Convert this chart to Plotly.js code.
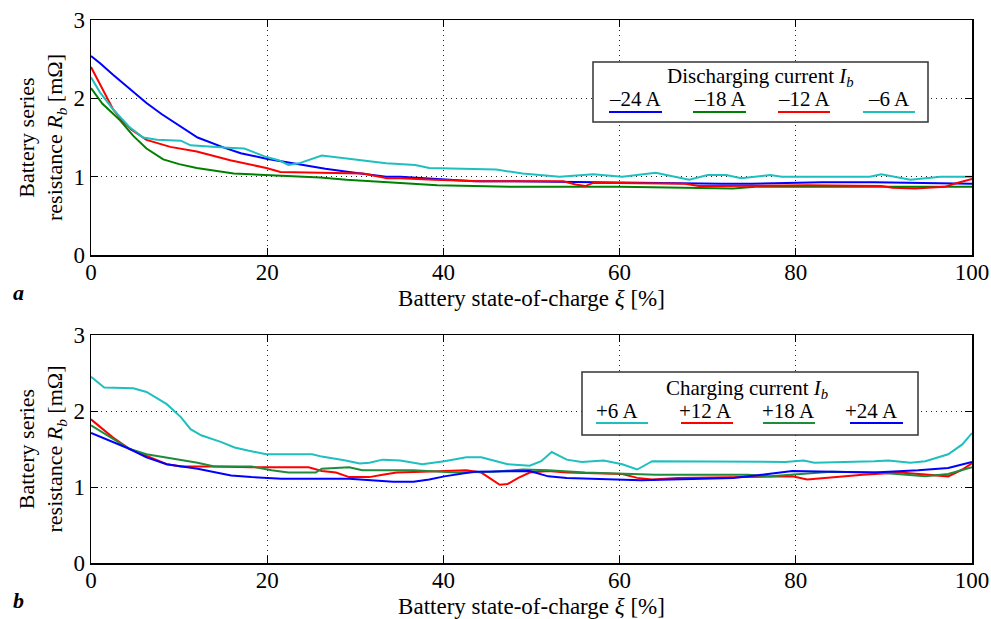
<!DOCTYPE html>
<html><head><meta charset="utf-8">
<script src="https://cdn.plot.ly/plotly-3.0.1.min.js"></script>
<style>html,body{margin:0;padding:0;background:#fff}</style>
</head><body>
<div id="chart" style="width:991px;height:619px"></div>
<script>
// ---- Data: discharging (panel a) ----
const dis24_x = [0,1,2.5,4.4,6.3,8,10,12.1,15.1,17,19.9,23,26.6,29.3,33.5,35.1,38,43.5,48,54,60,71.6,75,83,88.9,95,100];
const dis24_y = [2.54,2.45,2.30,2.12,1.94,1.80,1.65,1.50,1.37,1.30,1.23,1.17,1.10,1.06,1.00,1.00,0.98,0.94,0.94,0.93,0.92,0.91,0.91,0.93,0.93,0.92,0.91];
const dis18_x = [0,1.3,3.3,4.8,6.3,8.2,10,12,16.2,19.9,26,29,34,35.1,39.3,44,48.5,60,72.9,75.4,86.8,100];
const dis18_y = [2.13,1.93,1.72,1.52,1.36,1.22,1.16,1.11,1.04,1.02,0.99,0.96,0.92,0.92,0.89,0.88,0.87,0.87,0.85,0.87,0.87,0.87];
const dis12_x = [0,1,2.5,3.5,4.6,6.3,9,12,15.8,19.9,21.5,26,30.9,33.6,35.1,38.9,44.3,53.6,55,56.1,57,59.9,67.4,69,71.2,81.3,89.7,91,93.5,96.9,98,100];
const dis12_y = [2.40,2.18,1.86,1.72,1.60,1.47,1.38,1.32,1.21,1.11,1.06,1.05,1.04,0.98,0.98,0.96,0.94,0.94,0.90,0.88,0.92,0.92,0.91,0.88,0.88,0.89,0.88,0.86,0.85,0.87,0.91,0.97];
const dis6_x = [0,1,2.5,4.4,5.9,7.5,10.2,11.3,15.5,17.4,19.9,21.3,22.4,23.6,26.2,27.8,33.5,36.8,38.4,46,47.7,49,53.2,57,60.3,62.4,64.1,65.3,67.9,70,72.1,73.8,77.1,78.4,88.4,89.7,91,93,95.6,96.4,100];
const dis6_y = [2.27,2.08,1.86,1.63,1.50,1.47,1.46,1.40,1.37,1.36,1.25,1.21,1.15,1.17,1.27,1.25,1.17,1.15,1.11,1.09,1.06,1.04,1.00,1.03,1.00,1.03,1.05,1.02,0.96,1.02,1.02,0.98,1.02,1.00,1.00,1.03,1.00,0.96,0.99,1.00,1.00];

// ---- Data: charging (panel b) ----
const ch6_x = [0,1.5,4.8,6.3,8.6,10.2,11.3,12.5,14.8,16.3,17.8,19.9,25.1,26.2,28.9,30.5,31.6,33.1,35.1,37.6,40.1,42.6,44.3,47.3,49.8,51.1,52.3,54,55.7,58.2,60.3,62,63.7,72.9,78.8,80.9,82.1,88.9,90.5,93,94.7,97.3,98.9,100];
const ch6_y = [2.45,2.31,2.30,2.25,2.09,1.92,1.76,1.68,1.59,1.52,1.48,1.43,1.43,1.40,1.35,1.31,1.32,1.36,1.35,1.30,1.34,1.39,1.39,1.30,1.28,1.34,1.46,1.36,1.33,1.35,1.30,1.23,1.34,1.33,1.33,1.35,1.32,1.34,1.35,1.32,1.34,1.43,1.56,1.71];
const ch12_x = [0,2.5,4.4,6.3,8.6,10.2,14,18.2,24.7,26.2,27.8,29.3,31.6,33.1,34.7,37.6,42.6,44.3,45.2,46.4,47.3,48.5,49.8,51.9,54,60.3,62,63.7,66.6,73.2,79.6,81.3,84.2,87.6,91.8,97.3,98.9,100];
const ch12_y = [1.89,1.65,1.50,1.41,1.30,1.27,1.27,1.26,1.26,1.21,1.19,1.13,1.13,1.16,1.19,1.20,1.22,1.19,1.12,1.03,1.04,1.12,1.19,1.21,1.19,1.17,1.12,1.10,1.12,1.13,1.14,1.10,1.13,1.16,1.19,1.14,1.23,1.31];
const ch18_x = [0,2.5,4.4,6.3,8.6,12.1,14,18.2,20.5,22.4,25.5,26.2,29.3,30.8,36.6,41.4,45.6,49,51.9,56.1,64.1,74.6,77.1,84,89.3,94.7,97.3,98.9,100];
const ch18_y = [1.81,1.63,1.50,1.43,1.39,1.32,1.27,1.27,1.22,1.19,1.19,1.24,1.26,1.22,1.22,1.19,1.20,1.23,1.22,1.19,1.16,1.16,1.14,1.20,1.19,1.14,1.17,1.22,1.26];
const ch24_x = [0,2.5,4.4,6.3,8.6,12.1,14,15.9,18.2,21.6,29.3,34.3,36.6,38.4,40.1,43.5,49.8,51.9,54,62.4,72.9,74.6,79.6,88.9,93.9,97.3,100];
const ch24_y = [1.71,1.59,1.50,1.39,1.30,1.24,1.19,1.15,1.13,1.11,1.11,1.07,1.07,1.10,1.14,1.20,1.21,1.14,1.12,1.09,1.12,1.14,1.21,1.19,1.22,1.25,1.33];

const xTicks = [0,20,40,60,80,100];
const yTicks = [0,1,2,3];
const disLabels = ['\u201324 A','\u201318 A','\u201312 A','\u20136 A'];
const chLabels = ['+6 A','+12 A','+18 A','+24 A'];

// ---- Style ----
const BLUE='#0000ff', GREEN='#008000', RED='#ff0000', CYAN='#1fbfbf', GREEN2='#1e8c3c';
const FONT='Liberation Serif';
const W=991, H=619, ML=91, MR=19, MT=20, MB=56;
const PW=W-ML-MR, PH=H-MT-MB;
const px = v => (v-ML)/PW;
const py = v => (H-MB-v)/PH;

function tr(x,y,c,xa,ya){return {x:x,y:y,type:'scatter',mode:'lines',line:{color:c,width:2},xaxis:xa,yaxis:ya,showlegend:false,hoverinfo:'skip'};}
const data = [
  tr(dis24_x,dis24_y,BLUE,'x','y'),
  tr(dis18_x,dis18_y,GREEN,'x','y'),
  tr(dis12_x,dis12_y,RED,'x','y'),
  tr(dis6_x,dis6_y,CYAN,'x','y'),
  tr(ch6_x,ch6_y,CYAN,'x2','y2'),
  tr(ch12_x,ch12_y,RED,'x2','y2'),
  tr(ch18_x,ch18_y,GREEN2,'x2','y2'),
  tr(ch24_x,ch24_y,BLUE,'x2','y2')
];

const xtitle = 'Battery state-of-charge <i>\u03be</i> [%]';
const ytitle = 'Battery series<br>resistance <i>R<sub>b</sub></i> [m\u03a9]';
const GRID = {showgrid:true,gridcolor:'#222',griddash:'1px,4px',gridwidth:1};
function xa(anchor){return Object.assign({range:[0,100],tickvals:xTicks,ticks:'inside',ticklen:7,tickcolor:'#000',
  showline:true,linecolor:'#000',linewidth:1.5,mirror:'ticks',ticklabelstandoff:-4,
  zeroline:false,anchor:anchor,tickfont:{family:FONT,size:23,color:'#000'},
  title:{text:xtitle,font:{family:FONT,size:23,color:'#000'},standoff:6}},GRID);}
function ya(anchor,dom){return Object.assign({range:[0,3],tickvals:yTicks,ticks:'inside',ticklen:7,tickcolor:'#000',domain:dom,
  showline:true,linecolor:'#000',linewidth:1.5,mirror:'ticks',
  zeroline:false,anchor:anchor,tickfont:{family:FONT,size:23,color:'#000'},
  title:{text:ytitle,font:{family:FONT,size:22,color:'#000'},standoff:4}},GRID);}

const shapes=[], annotations=[];
function legend(box,titleTxt,titlePos,labels,centers,lines,colors,textY,lineY){
  shapes.push({type:'rect',xref:'paper',yref:'paper',x0:px(box[0]),x1:px(box[1]),y0:py(box[3]),y1:py(box[2]),
    fillcolor:'#fff',line:{color:'#333',width:1.5},layer:'above'});
  annotations.push({xref:'paper',yref:'paper',x:px(titlePos[0]),y:py(titlePos[1]),text:titleTxt,showarrow:false,
    xanchor:'center',yanchor:'middle',font:{family:FONT,size:21,color:'#000'}});
  labels.forEach((l,i)=>{
    annotations.push({xref:'paper',yref:'paper',x:px(centers[i]),y:py(textY),text:l,showarrow:false,
      xanchor:'center',yanchor:'middle',font:{family:FONT,size:21,color:'#000'}});
    shapes.push({type:'line',xref:'paper',yref:'paper',x0:px(lines[i][0]),x1:px(lines[i][1]),y0:py(lineY),y1:py(lineY),
      line:{color:colors[i],width:2},layer:'above'});
  });
}
legend([593,928,62,122],'Discharging current <i>I<sub>b</sub></i>',[760,77],disLabels,[635,720,804,889],
  [[609,662],[693,746],[778,830],[863,915]],[BLUE,GREEN,RED,CYAN],99,112);
legend([582,918,372,435],'Charging current <i>I<sub>b</sub></i>',[747,389],chLabels,[617,705,788,871],
  [[596,648],[681,733],[763,815],[850,903]],[CYAN,RED,GREEN2,BLUE],411,423);

annotations.push({xref:'paper',yref:'paper',x:px(18),y:py(292),text:'<b><i>a</i></b>',showarrow:false,xanchor:'center',yanchor:'middle',font:{family:FONT,size:22,color:'#000'}});
annotations.push({xref:'paper',yref:'paper',x:px(18),y:py(600),text:'<b><i>b</i></b>',showarrow:false,xanchor:'center',yanchor:'middle',font:{family:FONT,size:22,color:'#000'}});

const layout = {
  width:W,height:H,margin:{l:ML,r:MR,t:MT,b:MB},paper_bgcolor:'#fff',plot_bgcolor:'#fff',
  font:{family:FONT,color:'#000'},
  xaxis:xa('y'), yaxis:ya('x',[py(255),1]),
  xaxis2:xa('y2'), yaxis2:ya('x2',[0,py(335)]),
  shapes:shapes, annotations:annotations, showlegend:false
};
Plotly.newPlot('chart',data,layout,{displayModeBar:false,staticPlot:true});
</script>
</body></html>
